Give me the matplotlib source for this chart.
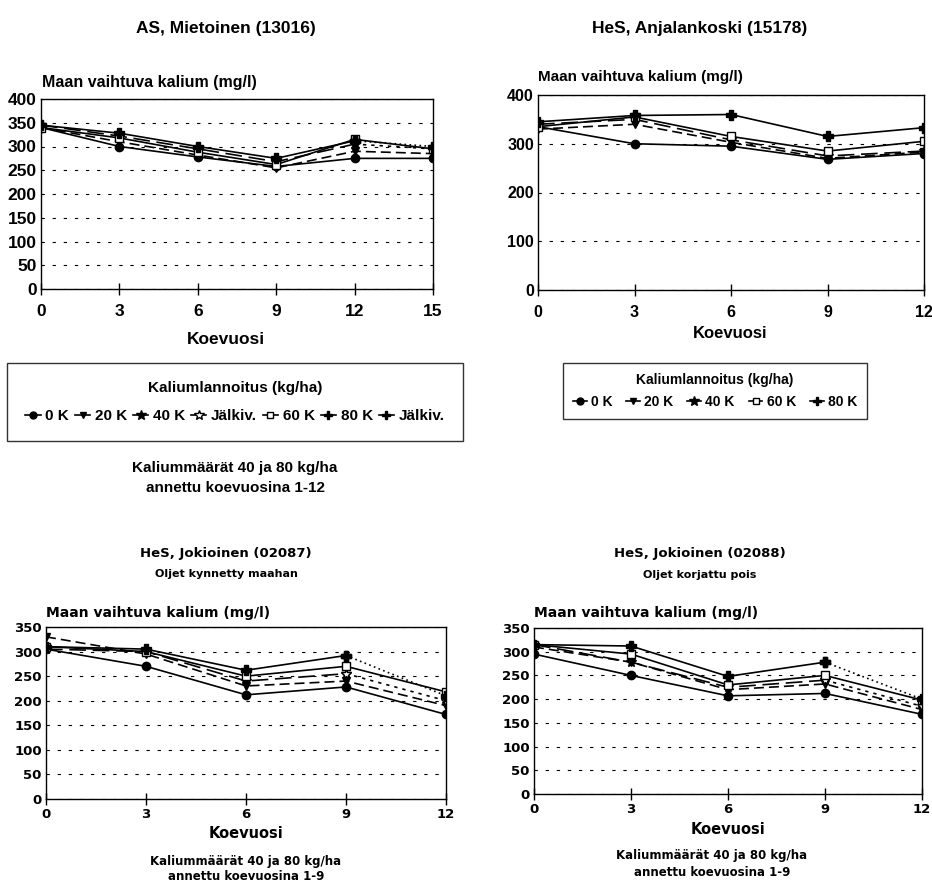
import numpy as np
import matplotlib.pyplot as plt
from matplotlib.lines import Line2D

# --- data ---
# panel 1: AS, Mietoinen (13016)
x1 = [0, 3, 6, 9, 12, 15]
p1_0k = [340, 300, 278, 258, 275, 275]
p1_20k = [340, 310, 282, 255, 290, 285]
p1_40k = [345, 322, 295, 268, 305]
p1_40k_jalk = [305, 295]
p1_60k = [340, 318, 288, 262, 315, 295]
p1_80k = [345, 328, 300, 275, 312]
p1_80k_jalk = [312, 300]

# panel 2: HeS, Anjalankoski (15178)
x2 = [0, 3, 6, 9, 12]
p2_0k = [335, 300, 295, 268, 280]
p2_20k = [330, 340, 303, 270, 283]
p2_40k = [340, 350, 308, 275, 285]
p2_60k = [335, 355, 315, 285, 305]
p2_80k = [345, 358, 360, 315, 333]

# panel 3: HeS, Jokioinen (02087)
x3 = [0, 3, 6, 9, 12]
p3_0k = [305, 270, 212, 228, 172]
p3_20k = [330, 295, 230, 240, 190]
p3_40k = [305, 300, 240, 255]
p3_40k_jalk = [255, 200]
p3_60k = [310, 300, 250, 270, 218]
p3_80k = [310, 305, 262, 292]
p3_80k_jalk = [292, 210]

# panel 4: HeS, Jokioinen (02088)
x4 = [0, 3, 6, 9, 12]
p4_0k = [295, 250, 207, 212, 168]
p4_20k = [310, 278, 220, 232, 178]
p4_40k = [315, 278, 225, 240]
p4_40k_jalk = [240, 185]
p4_60k = [315, 295, 230, 250, 198]
p4_80k = [315, 312, 248, 278]
p4_80k_jalk = [278, 200]

NARROW = ['Liberation Sans', 'DejaVu Sans']
WIDE = ['DejaVu Sans']

sty = {
    '0 K': dict(marker='o', ls='-', ms=6, mfc='k'),
    '20 K': dict(marker='v', ls=(0, (6, 3)), ms=6, mfc='k'),
    '40 K': dict(marker='*', ls=(0, (10, 4)), ms=8, mfc='k'),
    'J40': dict(marker='*', ls=(0, (2, 3)), ms=8, mfc='w'),
    '60 K': dict(marker='s', ls='-', ms=6, mfc='w'),
    '80 K': dict(marker='P', ls='-', ms=7, mfc='k'),
    'J80': dict(marker='P', ls=(0, (1, 2)), ms=7, mfc='k'),
}


def draw(ax, x, key, y, xoff=0):
    s = sty[key]
    xs = np.array(x[xoff:xoff + len(y)])
    ax.plot(xs, y, color='k', lw=1.2, marker=s['marker'], ls=s['ls'],
            ms=s['ms'], mfc=s['mfc'], mec='k')


def style_axes(ax, xt, ymax, ystep, fam, fs, pad=6):
    ax.set_xlim(xt[0], xt[-1])
    ax.set_ylim(0, ymax)
    ax.set_xticks(xt)
    ax.set_yticks(np.arange(0, ymax + 1, ystep))
    ax.yaxis.grid(True, linestyle=(0, (3, 7)), color='k', lw=0.8)
    ax.set_axisbelow(True)
    for sp in ax.spines.values():
        sp.set_color('k')
        sp.set_linewidth(1.0)
    ax.tick_params(axis='x', direction='inout', length=9, width=1.0, pad=pad)
    ax.tick_params(axis='y', length=0, pad=3)
    for lab in ax.get_xticklabels() + ax.get_yticklabels():
        lab.set_family(fam)
        lab.set_fontweight('bold')
        lab.set_fontsize(fs)


fig = plt.figure(figsize=(9.32, 8.82), dpi=100)

# ---- panel 1 ----
ax1 = fig.add_axes([41 / 932, 1 - 289 / 882, 392 / 932, 190 / 882])
draw(ax1, x1, '0 K', p1_0k)
draw(ax1, x1, '20 K', p1_20k)
draw(ax1, x1, '40 K', p1_40k)
draw(ax1, x1, 'J40', p1_40k_jalk, xoff=4)
draw(ax1, x1, '60 K', p1_60k)
draw(ax1, x1, '80 K', p1_80k)
draw(ax1, x1, 'J80', p1_80k_jalk, xoff=4)
style_axes(ax1, x1, 400, 50, NARROW, 12.5)

# ---- panel 2 ----
ax2 = fig.add_axes([538 / 932, 1 - 290 / 882, 386 / 932, 195 / 882])
draw(ax2, x2, '0 K', p2_0k)
draw(ax2, x2, '20 K', p2_20k)
draw(ax2, x2, '40 K', p2_40k)
draw(ax2, x2, '60 K', p2_60k)
draw(ax2, x2, '80 K', p2_80k)
style_axes(ax2, x2, 400, 100, NARROW, 11.5)

# ---- panel 3 ----
ax3 = fig.add_axes([46 / 932, 1 - 799 / 882, 400 / 932, 172 / 882])
draw(ax3, x3, '0 K', p3_0k)
draw(ax3, x3, '20 K', p3_20k)
draw(ax3, x3, '40 K', p3_40k)
draw(ax3, x3, 'J40', p3_40k_jalk, xoff=3)
draw(ax3, x3, '60 K', p3_60k)
draw(ax3, x3, '80 K', p3_80k)
draw(ax3, x3, 'J80', p3_80k_jalk, xoff=3)
style_axes(ax3, x3, 350, 50, WIDE, 9.5, pad=2)

# ---- panel 4 ----
ax4 = fig.add_axes([534 / 932, 1 - 794 / 882, 388 / 932, 166 / 882])
draw(ax4, x4, '0 K', p4_0k)
draw(ax4, x4, '20 K', p4_20k)
draw(ax4, x4, '40 K', p4_40k)
draw(ax4, x4, 'J40', p4_40k_jalk, xoff=3)
draw(ax4, x4, '60 K', p4_60k)
draw(ax4, x4, '80 K', p4_80k)
draw(ax4, x4, 'J80', p4_80k_jalk, xoff=3)
style_axes(ax4, x4, 350, 50, WIDE, 9.5, pad=2)


def ft(x, y, s, fam, fs, ha='center'):
    fig.text(x / 932, 1 - y / 882, s, ha=ha, va='center', family=fam,
             fontweight='bold', fontsize=fs)


ylab = 'Maan vaihtuva kalium (mg/l)'
ft(226, 28, 'AS, Mietoinen (13016)', NARROW, 12.5)
ft(42, 82, ylab, NARROW, 11.5, ha='left')
ft(226, 340, 'Koevuosi', NARROW, 12.5)
ft(700, 28, 'HeS, Anjalankoski (15178)', NARROW, 12.5)
ft(538, 77, ylab, NARROW, 11, ha='left')
ft(730, 333, 'Koevuosi', NARROW, 12)

ft(235, 468, 'Kaliummäärät 40 ja 80 kg/ha', NARROW, 11)
ft(235, 488, 'annettu koevuosina 1-12', NARROW, 11)

ft(226, 553, 'HeS, Jokioinen (02087)', WIDE, 9.5)
ft(226, 574, 'Oljet kynnetty maahan', WIDE, 8)
ft(46, 613, ylab, WIDE, 10, ha='left')
ft(246, 833, 'Koevuosi', WIDE, 10.5)
ft(246, 862, 'Kaliummäärät 40 ja 80 kg/ha', WIDE, 8.5)
ft(246, 876, 'annettu koevuosina 1-9', WIDE, 8.5)

ft(700, 553, 'HeS, Jokioinen (02088)', WIDE, 9.5)
ft(700, 575, 'Oljet korjattu pois', WIDE, 8)
ft(534, 613, ylab, WIDE, 10, ha='left')
ft(728, 830, 'Koevuosi', WIDE, 10.5)
ft(712, 856, 'Kaliummäärät 40 ja 80 kg/ha', WIDE, 8.5)
ft(712, 872, 'annettu koevuosina 1-9', WIDE, 8.5)


# ---- legends ----
def handle(key):
    s = sty[key]
    return Line2D([], [], color='k', lw=1.2, marker=s['marker'], ls='-',
                  ms=s['ms'] - 1, mfc=s['mfc'], mec='k')


labels1 = ['0 K', '20 K', '40 K', 'Jälkiv.', '60 K', '80 K', 'Jälkiv.']
keys1 = ['0 K', '20 K', '40 K', 'J40', '60 K', '80 K', 'J80']
leg1 = fig.legend([handle(k) for k in keys1], labels1, loc='center',
                  bbox_to_anchor=(7 / 932, 1 - 441 / 882, 456 / 932, 78 / 882),
                  mode='expand', ncol=7,
                  title='Kaliumlannoitus (kg/ha)', frameon=True, fancybox=False,
                  edgecolor='k', handlelength=1.0, handletextpad=0.3,
                  columnspacing=0.5, borderpad=1.2, borderaxespad=0,
                  prop=dict(family=NARROW, weight='bold', size=11),
                  title_fontproperties=dict(family=NARROW, weight='bold', size=11))
leg1.get_frame().set_linewidth(1.0)
leg1._legend_box.sep = 10

labels2 = ['0 K', '20 K', '40 K', '60 K', '80 K']
keys2 = ['0 K', '20 K', '40 K', '60 K', '80 K']
leg2 = fig.legend([handle(k) for k in keys2], labels2, loc='center',
                  bbox_to_anchor=(563 / 932, 1 - 420 / 882, 304 / 932, 58 / 882),
                  mode='expand', ncol=5,
                  title='Kaliumlannoitus (kg/ha)', frameon=True, fancybox=False,
                  edgecolor='k', handlelength=1.0, handletextpad=0.3,
                  columnspacing=0.5, borderpad=0.7, borderaxespad=0,
                  prop=dict(family=NARROW, weight='bold', size=10),
                  title_fontproperties=dict(family=NARROW, weight='bold', size=10))
leg2.get_frame().set_linewidth(1.0)
leg2._legend_box.sep = 6

fig.savefig('out.png', dpi=100)
